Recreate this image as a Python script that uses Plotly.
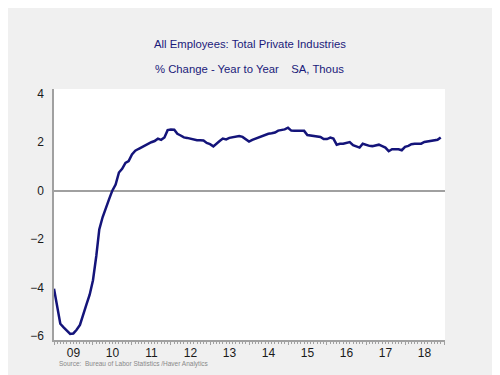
import plotly.graph_objects as go
import pandas as pd

dates = pd.date_range("2009-01-01", periods=120, freq="MS")
pct_change = [
    -4.05, -4.8, -5.5, -5.65, -5.8, -5.92, -5.9, -5.75, -5.55, -5.1, -4.7, -4.3,
    -3.7, -2.7, -1.6, -1.1, -0.7, -0.35, 0.0, 0.25, 0.75, 0.9, 1.15, 1.22,
    1.5, 1.65, 1.72, 1.8, 1.87, 1.95, 2.0, 2.05, 2.15, 2.1, 2.2, 2.5,
    2.53, 2.52, 2.35, 2.28, 2.2, 2.18, 2.15, 2.1, 2.08, 2.08, 2.07, 1.97,
    1.92, 1.83, 1.95, 2.05, 2.15, 2.12, 2.18, 2.2, 2.22, 2.26, 2.22, 2.12,
    2.03, 2.1, 2.15, 2.2, 2.25, 2.32, 2.35, 2.37, 2.4, 2.48, 2.5, 2.53,
    2.6, 2.48, 2.47, 2.47, 2.45, 2.47, 2.3, 2.28, 2.26, 2.26, 2.22, 2.13,
    2.13, 2.19, 2.15, 1.9, 1.94, 1.94, 1.96, 2.01, 1.88, 1.83, 1.78, 1.94,
    1.88, 1.85, 1.84, 1.87, 1.9, 1.84, 1.78, 1.63, 1.71, 1.71, 1.71, 1.67,
    1.81, 1.85, 1.92, 1.94, 1.94, 1.94, 2.01, 2.03, 2.05, 2.08, 2.1, 2.2,
]
years = list(range(2009, 2019))
year_labels = ["09", "10", "11", "12", "13", "14", "15", "16", "17", "18"]
y_ticks = [4, 2, 0, -2, -4, -6]

mid_year = [f"{y}-07-02" for y in years]
year_starts = [f"{y}-01-01" for y in years] + ["2019-01-01"]
xrange = ["2009-01-01", "2019-01-10"]

fig = go.Figure()
fig.add_trace(go.Scatter(x=dates, y=pct_change, mode="lines",
                         line=dict(color="#14147a", width=2.5), showlegend=False))

font = "Liberation Sans, Arial, sans-serif"
fig.update_layout(
    width=500, height=375,
    paper_bgcolor="#f0f0f0", plot_bgcolor="#ffffff",
    margin=dict(l=46, r=63, t=81, b=43),
    font=dict(family=font, color="#1a1a1a"),
    xaxis=dict(
        type="date", range=xrange,
        tickmode="array", tickvals=mid_year, ticktext=year_labels,
        ticks="", showgrid=False, zeroline=False,
        showline=True, linecolor="#a0a0a0", linewidth=1.5,
        tickfont=dict(size=12, color="#1a1a1a"), ticklabelstandoff=1,
        minor=dict(dtick="M1", tick0="2009-01-01", ticks="outside", ticklen=2,
                   tickcolor="#a0a0a0", showgrid=False),
    ),
    xaxis2=dict(
        type="date", range=xrange, overlaying="x", anchor="y", side="bottom",
        tickmode="array", tickvals=year_starts, showticklabels=False,
        ticks="outside", ticklen=4, tickcolor="#a0a0a0", showgrid=False,
        zeroline=False, showline=False,
    ),
    yaxis=dict(
        range=[-6.17, 4.2], tickmode="array", tickvals=y_ticks,
        ticks="", showgrid=False, zeroline=True, zerolinecolor="#a0a0a0",
        zerolinewidth=2, showline=True, linecolor="#a0a0a0", linewidth=1.5,
        tickfont=dict(size=12, color="#1a1a1a"), ticklabelstandoff=6,
    ),
    annotations=[
        dict(text="All Employees: Total Private Industries", x=0.5, y=1.179,
             xref="paper", yref="paper", showarrow=False, yanchor="middle",
             font=dict(size=11.3, color="#1a1a7a", family=font)),
        dict(text="% Change - Year to Year &nbsp;&nbsp; SA, Thous", x=0.5, y=1.080,
             xref="paper", yref="paper", showarrow=False, yanchor="middle",
             font=dict(size=11.3, color="#1a1a7a", family=font)),
        dict(text="Source:  Bureau of Labor Statistics /Haver Analytics", x=0.008, y=-0.097,
             xref="paper", yref="paper", showarrow=False, xanchor="left", yanchor="middle",
             font=dict(size=6.5, color="#888888", family=font)),
    ],
)
# invisible trace so the year-boundary tick axis is rendered
fig.add_trace(go.Scatter(x=[dates[0]], y=[None], xaxis="x2", showlegend=False, hoverinfo="skip"))

fig.write_html("out.html")
